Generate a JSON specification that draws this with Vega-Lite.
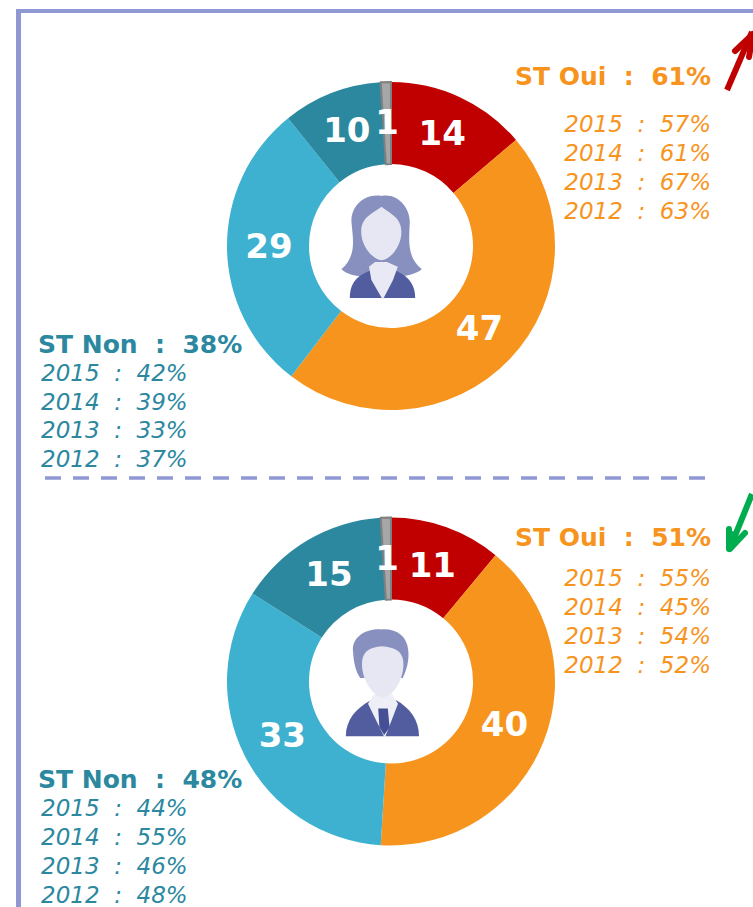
{"$schema":"https://vega.github.io/schema/vega-lite/v6.json","width":753,"height":907,"padding":0,"autosize":{"type":"fit","contains":"padding"},"background":"white","config":{"view":{"stroke":null},"axis":{"disable":true}},
"datasets":{"parts":[
{"genre":"Femmes","segment":"Tout à fait","ordre":1,"valeur":13.8,"label":"14"},
{"genre":"Femmes","segment":"Plutôt oui","ordre":2,"valeur":46.6,"label":"47"},
{"genre":"Femmes","segment":"Plutôt non","ordre":3,"valeur":28.8,"label":"29"},
{"genre":"Femmes","segment":"Pas du tout","ordre":4,"valeur":9.8,"label":"10"},
{"genre":"Femmes","segment":"NSP","ordre":5,"valeur":1,"label":"1"},
{"genre":"Hommes","segment":"Tout à fait","ordre":1,"valeur":11,"label":"11"},
{"genre":"Hommes","segment":"Plutôt oui","ordre":2,"valeur":40,"label":"40"},
{"genre":"Hommes","segment":"Plutôt non","ordre":3,"valeur":33,"label":"33"},
{"genre":"Hommes","segment":"Pas du tout","ordre":4,"valeur":15,"label":"15"},
{"genre":"Hommes","segment":"NSP","ordre":5,"valeur":1,"label":"1"}],
"chiffres":[
{"genre":"Femmes","camp":"Oui","annee":"Total","texte":"ST Oui\u00a0\u00a0:\u00a0\u00a061%"},
{"genre":"Femmes","camp":"Oui","annee":"2015","texte":"2015\u00a0\u00a0:\u00a0\u00a057%"},
{"genre":"Femmes","camp":"Oui","annee":"2014","texte":"2014\u00a0\u00a0:\u00a0\u00a061%"},
{"genre":"Femmes","camp":"Oui","annee":"2013","texte":"2013\u00a0\u00a0:\u00a0\u00a067%"},
{"genre":"Femmes","camp":"Oui","annee":"2012","texte":"2012\u00a0\u00a0:\u00a0\u00a063%"},
{"genre":"Femmes","camp":"Non","annee":"Total","texte":"ST Non\u00a0\u00a0:\u00a0\u00a038%"},
{"genre":"Femmes","camp":"Non","annee":"2015","texte":"2015\u00a0\u00a0:\u00a0\u00a042%"},
{"genre":"Femmes","camp":"Non","annee":"2014","texte":"2014\u00a0\u00a0:\u00a0\u00a039%"},
{"genre":"Femmes","camp":"Non","annee":"2013","texte":"2013\u00a0\u00a0:\u00a0\u00a033%"},
{"genre":"Femmes","camp":"Non","annee":"2012","texte":"2012\u00a0\u00a0:\u00a0\u00a037%"},
{"genre":"Hommes","camp":"Oui","annee":"Total","texte":"ST Oui\u00a0\u00a0:\u00a0\u00a051%"},
{"genre":"Hommes","camp":"Oui","annee":"2015","texte":"2015\u00a0\u00a0:\u00a0\u00a055%"},
{"genre":"Hommes","camp":"Oui","annee":"2014","texte":"2014\u00a0\u00a0:\u00a0\u00a045%"},
{"genre":"Hommes","camp":"Oui","annee":"2013","texte":"2013\u00a0\u00a0:\u00a0\u00a054%"},
{"genre":"Hommes","camp":"Oui","annee":"2012","texte":"2012\u00a0\u00a0:\u00a0\u00a052%"},
{"genre":"Hommes","camp":"Non","annee":"Total","texte":"ST Non\u00a0\u00a0:\u00a0\u00a048%"},
{"genre":"Hommes","camp":"Non","annee":"2015","texte":"2015\u00a0\u00a0:\u00a0\u00a044%"},
{"genre":"Hommes","camp":"Non","annee":"2014","texte":"2014\u00a0\u00a0:\u00a0\u00a055%"},
{"genre":"Hommes","camp":"Non","annee":"2013","texte":"2013\u00a0\u00a0:\u00a0\u00a046%"},
{"genre":"Hommes","camp":"Non","annee":"2012","texte":"2012\u00a0\u00a0:\u00a0\u00a048%"}],
"vide":[{"n":1}]},
"data":{"name":"vide"},
"resolve":{"scale":{"y":"independent"}},
"layer":[
{"layer":[
{"mark":{"type":"rule","color":"#8f98d3","strokeWidth":4},"encoding":{"x":{"datum":17,"scale":{"domain":[0,753],"range":[0,753],"nice":false,"zero":false}},"x2":{"datum":753},"y":{"datum":11,"scale":{"domain":[0,907],"range":[0,907],"nice":false,"zero":false}}}},
{"mark":{"type":"rule","color":"#8f98d3","strokeWidth":5},"encoding":{"x":{"datum":18.5},"y":{"datum":9},"y2":{"datum":907}}},
{"mark":{"type":"rule","color":"#8f98d3","strokeWidth":3.5,"strokeDash":[16,12]},"encoding":{"x":{"datum":45},"x2":{"datum":706},"y":{"datum":478}}},
{"mark":{"type":"rule","color":"#c00000","strokeWidth":6},"encoding":{"x":{"datum":727},"x2":{"datum":752},"y":{"datum":90},"y2":{"datum":32}}},
{"mark":{"type":"rule","color":"#c00000","strokeWidth":6,"strokeCap":"round"},"encoding":{"x":{"datum":735},"x2":{"datum":753},"y":{"datum":51},"y2":{"datum":34}}},
{"mark":{"type":"rule","color":"#c00000","strokeWidth":6,"strokeCap":"round"},"encoding":{"x":{"datum":749},"x2":{"datum":753},"y":{"datum":57},"y2":{"datum":34}}},
{"mark":{"type":"rule","color":"#c00000","strokeWidth":6},"encoding":{"x":{"datum":743},"x2":{"datum":753},"y":{"datum":47},"y2":{"datum":36}}},
{"mark":{"type":"rule","color":"#00ad4e","strokeWidth":6},"encoding":{"x":{"datum":752},"x2":{"datum":730},"y":{"datum":494},"y2":{"datum":548}}},
{"mark":{"type":"rule","color":"#00ad4e","strokeWidth":6,"strokeCap":"round"},"encoding":{"x":{"datum":729},"x2":{"datum":729},"y":{"datum":529},"y2":{"datum":549}}},
{"mark":{"type":"rule","color":"#00ad4e","strokeWidth":6,"strokeCap":"round"},"encoding":{"x":{"datum":745},"x2":{"datum":730},"y":{"datum":533},"y2":{"datum":549}}},
{"mark":{"type":"rule","color":"#00ad4e","strokeWidth":8},"encoding":{"x":{"datum":735},"x2":{"datum":730},"y":{"datum":532},"y2":{"datum":546}}},
{"data":{"name":"parts"},"transform":[{"filter":"datum.genre==='Femmes'"}],"mark":{"type":"arc","radius":164,"radius2":82},"encoding":{"x":{"datum":391},"y":{"datum":246},"theta":{"field":"valeur","type":"quantitative","stack":true,"scale":{"domain":[0,100],"range":[0,6.2832]}},"order":{"field":"ordre"},"color":{"field":"segment","scale":{"domain":["Tout à fait","Plutôt oui","Plutôt non","Pas du tout","NSP"],"range":["#c00000","#f7941e","#3db1cf","#2b889f","#a6a6a6"]},"legend":null},"stroke":{"field":"segment","scale":{"domain":["Tout à fait","Plutôt oui","Plutôt non","Pas du tout","NSP"],"range":["#c00000","#f7941e","#3db1cf","#2b889f","#808080"]},"legend":null},"strokeWidth":{"field":"segment","type":"nominal","scale":{"type":"ordinal","domain":["Tout à fait","Plutôt oui","Plutôt non","Pas du tout","NSP"],"range":[0,0,0,0,2]},"legend":null}}},
{"data":{"name":"parts"},"transform":[{"filter":"datum.genre==='Hommes'"}],"mark":{"type":"arc","radius":164,"radius2":82},"encoding":{"x":{"datum":391},"y":{"datum":681.5},"theta":{"field":"valeur","type":"quantitative","stack":true,"scale":{"domain":[0,100],"range":[0,6.2832]}},"order":{"field":"ordre"},"color":{"field":"segment","scale":{"domain":["Tout à fait","Plutôt oui","Plutôt non","Pas du tout","NSP"],"range":["#c00000","#f7941e","#3db1cf","#2b889f","#a6a6a6"]},"legend":null},"stroke":{"field":"segment","scale":{"domain":["Tout à fait","Plutôt oui","Plutôt non","Pas du tout","NSP"],"range":["#c00000","#f7941e","#3db1cf","#2b889f","#808080"]},"legend":null},"strokeWidth":{"field":"segment","type":"nominal","scale":{"type":"ordinal","domain":["Tout à fait","Plutôt oui","Plutôt non","Pas du tout","NSP"],"range":[0,0,0,0,2]},"legend":null}}},
{"data":{"name":"parts"},"transform":[{"filter":"datum.genre==='Femmes'"}],"mark":{"type":"text","radius":122,"font":"DejaVu Sans","fontWeight":"bold","fontSize":34,"color":"white","baseline":"middle"},"encoding":{"x":{"datum":391},"y":{"datum":246},"theta":{"field":"valeur","type":"quantitative","stack":true},"order":{"field":"ordre"},"detail":{"field":"segment"},"text":{"field":"label"}}},
{"data":{"name":"parts"},"transform":[{"filter":"datum.genre==='Hommes'"}],"mark":{"type":"text","radius":122,"font":"DejaVu Sans","fontWeight":"bold","fontSize":34,"color":"white","baseline":"middle"},"encoding":{"x":{"datum":391},"y":{"datum":681.5},"theta":{"field":"valeur","type":"quantitative","stack":true},"order":{"field":"ordre"},"detail":{"field":"segment"},"text":{"field":"label"}}},
{"mark":{"type":"point","shape":"M0.01,-0.9 C-0.3,-0.95 -0.52,-0.7 -0.49,-0.44 C-0.47,-0.2 -0.4,0.1 -0.66,0.32 C-0.55,0.42 -0.42,0.42 -0.35,0.44 L0.34,0.44 C0.45,0.42 0.58,0.4 0.68,0.32 C0.42,0.12 0.47,-0.2 0.48,-0.47 C0.48,-0.7 0.28,-0.95 0.01,-0.9 Z","filled":true,"size":14400,"color":"#8890bf","opacity":1,"strokeWidth":0},"encoding":{"x":{"datum":381},"y":{"datum":250}}},
{"mark":{"type":"point","shape":"M-0.52,0.8 C-0.52,0.6 -0.45,0.45 -0.2,0.35 L0.26,0.35 C0.48,0.45 0.57,0.6 0.57,0.8 Z","filled":true,"size":14400,"color":"#525d9f","opacity":1,"strokeWidth":0},"encoding":{"x":{"datum":381},"y":{"datum":250}}},
{"mark":{"type":"point","shape":"M-0.2,0.28 L-0.16,0.5 L0.03,0.83 L0.2,0.5 L0.28,0.28 L0.1,0.2 L-0.1,0.2 Z","filled":true,"size":14400,"color":"#e8e9f4","opacity":1,"strokeWidth":0},"encoding":{"x":{"datum":381},"y":{"datum":250}}},
{"mark":{"type":"point","shape":"M0.01,-0.72 C-0.15,-0.6 -0.33,-0.55 -0.33,-0.3 C-0.33,-0.05 -0.12,0.17 0.01,0.17 C0.14,0.17 0.34,-0.05 0.34,-0.3 C0.34,-0.55 0.15,-0.6 0.01,-0.72 Z","filled":true,"size":14400,"color":"#e6e7f2","opacity":1,"strokeWidth":0},"encoding":{"x":{"datum":381},"y":{"datum":250}}},
{"mark":{"type":"point","shape":"M-0.03,-0.96 C-0.3,-0.98 -0.52,-0.82 -0.5,-0.6 C-0.49,-0.4 -0.45,-0.25 -0.38,-0.15 L0.33,-0.15 C0.4,-0.3 0.44,-0.45 0.42,-0.62 C0.4,-0.85 0.22,-0.98 -0.03,-0.96 Z","filled":true,"size":14400,"color":"#8890bf","opacity":1,"strokeWidth":0},"encoding":{"x":{"datum":383},"y":{"datum":687}}},
{"mark":{"type":"point","shape":"M-0.62,0.82 C-0.62,0.55 -0.45,0.35 -0.2,0.22 L0.22,0.22 C0.45,0.35 0.6,0.55 0.6,0.82 Z","filled":true,"size":14400,"color":"#525d9f","opacity":1,"strokeWidth":0},"encoding":{"x":{"datum":383},"y":{"datum":687}}},
{"mark":{"type":"point","shape":"M-0.25,0.28 L0.03,0.85 L0.25,0.28 L0.15,0.12 L-0.15,0.12 Z","filled":true,"size":14400,"color":"#eeeef6","opacity":1,"strokeWidth":0},"encoding":{"x":{"datum":383},"y":{"datum":687}}},
{"mark":{"type":"point","shape":"M-0.08,0.36 L0.08,0.36 L0.11,0.67 L0.02,0.8 L-0.06,0.67 Z","filled":true,"size":14400,"color":"#444f96","opacity":1,"strokeWidth":0},"encoding":{"x":{"datum":383},"y":{"datum":687}}},
{"mark":{"type":"point","shape":"M-0.02,-0.68 C-0.22,-0.66 -0.35,-0.6 -0.35,-0.38 C-0.35,-0.1 -0.15,0.17 0,0.17 C0.15,0.17 0.34,-0.1 0.34,-0.38 C0.34,-0.6 0.2,-0.66 -0.02,-0.68 Z","filled":true,"size":14400,"color":"#e6e7f2","opacity":1,"strokeWidth":0},"encoding":{"x":{"datum":383},"y":{"datum":687}}}
]},
{"data":{"name":"chiffres"},"transform":[{"filter":"datum.camp==='Oui' && datum.annee==='Total'"}],"mark":{"type":"text","align":"right","baseline":"middle","font":"DejaVu Sans","fontWeight":"bold","fontSize":25,"color":"#f7941e"},"encoding":{"x":{"datum":711},"y":{"field":"genre","type":"nominal","scale":{"type":"point","padding":0,"domain":["Femmes","Hommes"],"range":[77,538]}},"text":{"field":"texte"}}},
{"data":{"name":"chiffres"},"transform":[{"filter":"datum.camp==='Non' && datum.annee==='Total'"}],"mark":{"type":"text","align":"left","baseline":"middle","font":"DejaVu Sans","fontWeight":"bold","fontSize":25,"color":"#2b889f"},"encoding":{"x":{"datum":38},"y":{"field":"genre","type":"nominal","scale":{"type":"point","padding":0,"domain":["Femmes","Hommes"],"range":[345,780]}},"text":{"field":"texte"}}},
{"data":{"name":"chiffres"},"transform":[{"filter":"datum.genre==='Femmes' && datum.camp==='Oui' && datum.annee!=='Total'"}],"mark":{"type":"text","align":"right","baseline":"middle","font":"DejaVu Sans","fontStyle":"italic","fontSize":23,"color":"#f7941e"},"encoding":{"x":{"datum":711},"y":{"field":"annee","type":"nominal","scale":{"type":"point","padding":0,"domain":["2015","2014","2013","2012"],"range":[125,212]}},"text":{"field":"texte"}}},
{"data":{"name":"chiffres"},"transform":[{"filter":"datum.genre==='Hommes' && datum.camp==='Oui' && datum.annee!=='Total'"}],"mark":{"type":"text","align":"right","baseline":"middle","font":"DejaVu Sans","fontStyle":"italic","fontSize":23,"color":"#f7941e"},"encoding":{"x":{"datum":711},"y":{"field":"annee","type":"nominal","scale":{"type":"point","padding":0,"domain":["2015","2014","2013","2012"],"range":[579,666]}},"text":{"field":"texte"}}},
{"data":{"name":"chiffres"},"transform":[{"filter":"datum.genre==='Femmes' && datum.camp==='Non' && datum.annee!=='Total'"}],"mark":{"type":"text","align":"left","baseline":"middle","font":"DejaVu Sans","fontStyle":"italic","fontSize":23,"color":"#2b889f"},"encoding":{"x":{"datum":41},"y":{"field":"annee","type":"nominal","scale":{"type":"point","padding":0,"domain":["2015","2014","2013","2012"],"range":[374,460]}},"text":{"field":"texte"}}},
{"data":{"name":"chiffres"},"transform":[{"filter":"datum.genre==='Hommes' && datum.camp==='Non' && datum.annee!=='Total'"}],"mark":{"type":"text","align":"left","baseline":"middle","font":"DejaVu Sans","fontStyle":"italic","fontSize":23,"color":"#2b889f"},"encoding":{"x":{"datum":41},"y":{"field":"annee","type":"nominal","scale":{"type":"point","padding":0,"domain":["2015","2014","2013","2012"],"range":[809,896]}},"text":{"field":"texte"}}}
]}
